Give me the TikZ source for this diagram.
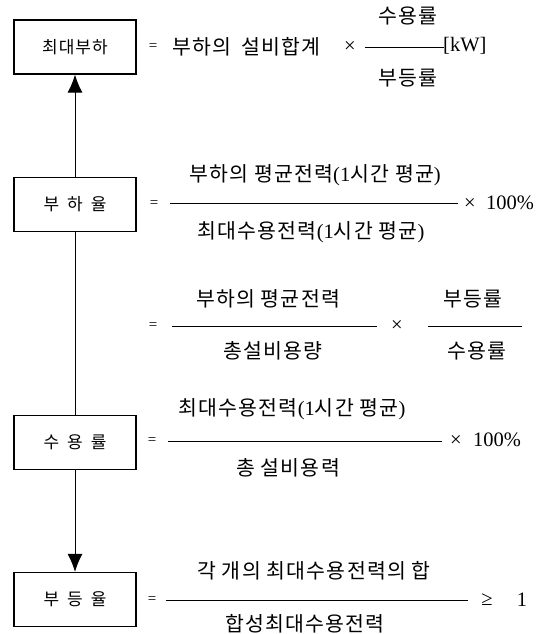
\documentclass[tikz,border=0pt]{standalone}
\usepackage{fontspec}
\setmainfont{Liberation Serif}
\newfontfamily\kr[LetterSpace=6]{Noto Sans CJK KR}
\usetikzlibrary{arrows.meta}
\begin{document}
\begin{tikzpicture}[x=1pt,y=-1pt,>={Latex[length=18pt,width=15pt]},
  box/.style={draw,line width=1.2pt,minimum width=122pt,minimum height=54pt,
    font=\kr\fontsize{17}{20}\selectfont},
  txt/.style={inner sep=0pt,font=\fontsize{20.5}{24}\selectfont},
  eqs/.style={inner sep=0pt,font=\fontsize{15}{16}\selectfont},
  bar/.style={line width=0.8pt}]
\useasboundingbox (0,0) rectangle (551,634);

% boxes on the left
\node[box] (maxload) at (75,47) {최대부하};
\node[box] (loadf) at (75,204.5) {부\hspace{8pt}하\hspace{8pt}율};
\node[box] (demf) at (75,442.5) {수\hspace{8pt}용\hspace{8pt}률};
\node[box] (divf) at (75,599.5) {부\hspace{8pt}등\hspace{8pt}율};

\draw[->,line width=1pt] (loadf.north)--(maxload.south);
\draw[line width=1pt] (loadf.south)--(demf.north);
\draw[->,line width=1pt] (demf.south)--(divf.north);

% 최대부하
\node[eqs] (eq1) at (153,47) {=};
\node[txt,anchor=west] (sum1) at (172,47) {\kr 부하의\hspace{4pt} 설비합계};
\node[txt] (x1) at (350,47) {×};
\draw[bar] (365,47)--(444,47);
\node[txt,anchor=west] (kw) at (443,46) {[kW]};
\node[txt] (n1) at (408,16) {\kr 수용률};
\node[txt] (d1) at (408,78) {\kr 부등률};

% 부하율
\node[eqs] (eq2) at (154,204) {=};
\draw[bar] (170,203)--(458,203);
\node[txt] (n2) at (315,175) {{\kr 부하의 평균전력}(1{\kr 시간 평균})};
\node[txt] (d2) at (311,232) {{\kr 최대수용전력}(1{\kr 시간 평균})};
\node[txt] (x2) at (470,204) {×};
\node[txt,anchor=west] (p2) at (486,203) {100\%};

% 부하율 (둘째 식)
\node[eqs] (eq3) at (153,326) {=};
\draw[bar] (172,326)--(377,326);
\node[txt] (n3) at (268,299) {\kr 부하의 평균전력};
\node[txt] (d3) at (273,351) {\kr 총설비용량};
\node[txt] (x3) at (397,326) {×};
\draw[bar] (428,326)--(522,326);
\node[txt] (n4) at (473,299) {\kr 부등률};
\node[txt] (d4) at (477,351) {\kr 수용률};

% 수용률
\node[eqs] (eq5) at (152,441) {=};
\draw[bar] (168,441)--(442,441);
\node[txt] (n5) at (292,409) {{\kr 최대수용전력}(1{\kr 시간 평균})};
\node[txt] (d5) at (288,468) {\kr 총 설비용력};
\node[txt] (x5) at (456,441) {×};
\node[txt,anchor=west] (p5) at (473,440) {100\%};

% 부등률
\node[eqs] (eq6) at (152,600) {=};
\draw[bar] (166,600)--(468,600);
\node[txt] (n6) at (314,571) {\kr 각 개의 최대수용전력의 합};
\node[txt] (d6) at (305,624) {\kr 합성최대수용전력};
\node[txt] (ge) at (487,600) {≥};
\node[txt] (one) at (522,600) {1};
\end{tikzpicture}
\end{document}
